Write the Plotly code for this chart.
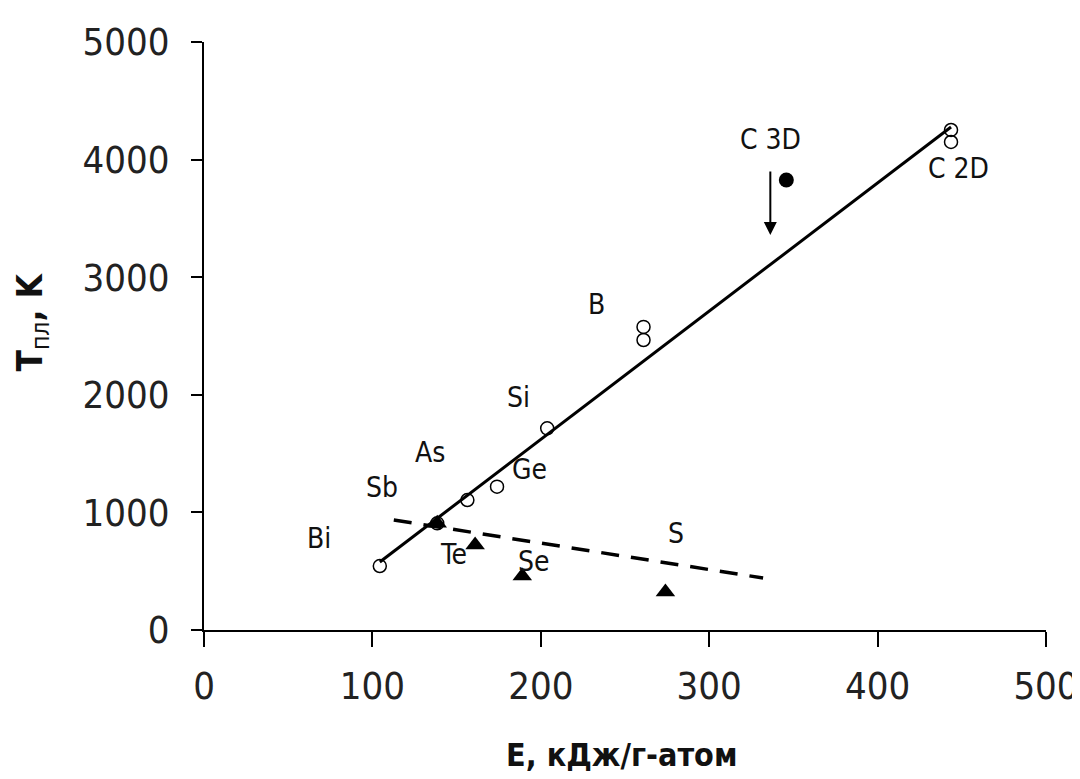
import plotly.graph_objects as go

# Open circles (fit to solid line)
circ_names = ["Bi", "Sb", "As", "Ge", "Si", "B", "B", "C 2D", "C 2D"]
circ_E = [104.4, 138.5, 156.4, 174.0, 203.8, 261.0, 261.0, 443.6, 443.6]
circ_T = [544, 907, 1105, 1219, 1715, 2577, 2466, 4252, 4150]

# Filled triangles (dashed line)
tri_names = ["Sb", "Te", "Se", "S"]
tri_E = [138.5, 161.0, 189.0, 274.0]
tri_T = [907, 723, 459, 323]

# Filled circle
c3d_E = [345.8]
c3d_T = [3827]

# Lines
solid_E = [104.4, 443.6]
solid_T = [578, 4277]
dash_E = [112.7, 332.0]
dash_T = [935, 442]

# Arrow (C 3D)
arrow_E = [336.3, 336.3]
arrow_T = [3912, 3359]

# Labels
lab_text = ["Bi", "Sb", "As", "Si", "Ge", "B", "Te", "Se", "S", "C 3D", "C 2D"]
lab_E = [68.5, 105.5, 134.0, 187.0, 193.0, 233.0, 148.0, 196.0, 280.0, 336.5, 448.0]
lab_T = [780, 1210, 1510, 1980, 1365, 2770, 640, 585, 820, 4170, 3925]

x_ticks = [0, 100, 200, 300, 400, 500]
y_ticks = [0, 1000, 2000, 3000, 4000, 5000]

FONT = "DejaVu Sans Condensed, Liberation Sans Narrow, Liberation Sans, Arial, sans-serif"

fig = go.Figure()
fig.add_trace(go.Scatter(x=solid_E, y=solid_T, mode="lines",
                         line=dict(color="black", width=3), showlegend=False))
fig.add_trace(go.Scatter(x=dash_E, y=dash_T, mode="lines",
                         line=dict(color="black", width=3.5, dash="18px,12px"), showlegend=False))
fig.add_trace(go.Scatter(x=circ_E, y=circ_T, mode="markers", text=circ_names,
                         marker=dict(symbol="circle-open", size=13, color="black",
                                     line=dict(width=1.5, color="black")),
                         showlegend=False))
fig.add_trace(go.Scatter(x=tri_E, y=tri_T, mode="markers", text=tri_names,
                         marker=dict(symbol="triangle-up", size=17, color="black"),
                         showlegend=False))
fig.add_trace(go.Scatter(x=c3d_E, y=c3d_T, mode="markers",
                         marker=dict(symbol="circle", size=15, color="black"),
                         showlegend=False))

for t, xx, yy in zip(lab_text, lab_E, lab_T):
    fig.add_annotation(x=xx, y=yy, xref="x", yref="y", text=t, showarrow=False,
                       font=dict(family=FONT, size=28, color="#111"))

fig.add_annotation(x=arrow_E[1], y=arrow_T[1], ax=arrow_E[0], ay=arrow_T[0],
                   xref="x", yref="y", axref="x", ayref="y", text="",
                   showarrow=True, arrowhead=2, arrowsize=1.3, arrowwidth=2,
                   arrowcolor="black")

fig.add_annotation(x=0.4964, y=-0.2125, xref="paper", yref="paper",
                   text="<b>E, кДж/г-атом</b>", showarrow=False,
                   xanchor="center", yanchor="middle",
                   font=dict(family=FONT, size=32, color="#111"))
fig.add_annotation(x=-0.2035, y=0.524, xref="paper", yref="paper",
                   text="<b>T</b><sub>пл</sub><b>, K</b>", showarrow=False, textangle=-90,
                   xanchor="center", yanchor="middle",
                   font=dict(family=FONT, size=35, color="#111"))

axis_common = dict(showgrid=False, zeroline=False, showline=True, linecolor="black",
                   linewidth=2, ticks="outside", tickwidth=2,
                   tickcolor="black", ticklabeloverflow="allow", automargin=False)

fig.update_layout(
    width=1080, height=779, autosize=False,
    margin=dict(l=196, r=42, t=34, b=157),
    plot_bgcolor="white", paper_bgcolor="white",
    xaxis=dict(range=[0, 500], tickvals=x_ticks, ticktext=[str(v) for v in x_ticks],
               ticklen=15, ticklabelstandoff=6,
               tickfont=dict(family=FONT, size=38, color="#222"), **axis_common),
    yaxis=dict(range=[0, 5000], tickvals=y_ticks, ticktext=[str(v) for v in y_ticks],
               ticklen=11, ticklabelstandoff=14,
               tickfont=dict(family=FONT, size=38, color="#222"), **axis_common),
)

fig.write_html("out.html")
